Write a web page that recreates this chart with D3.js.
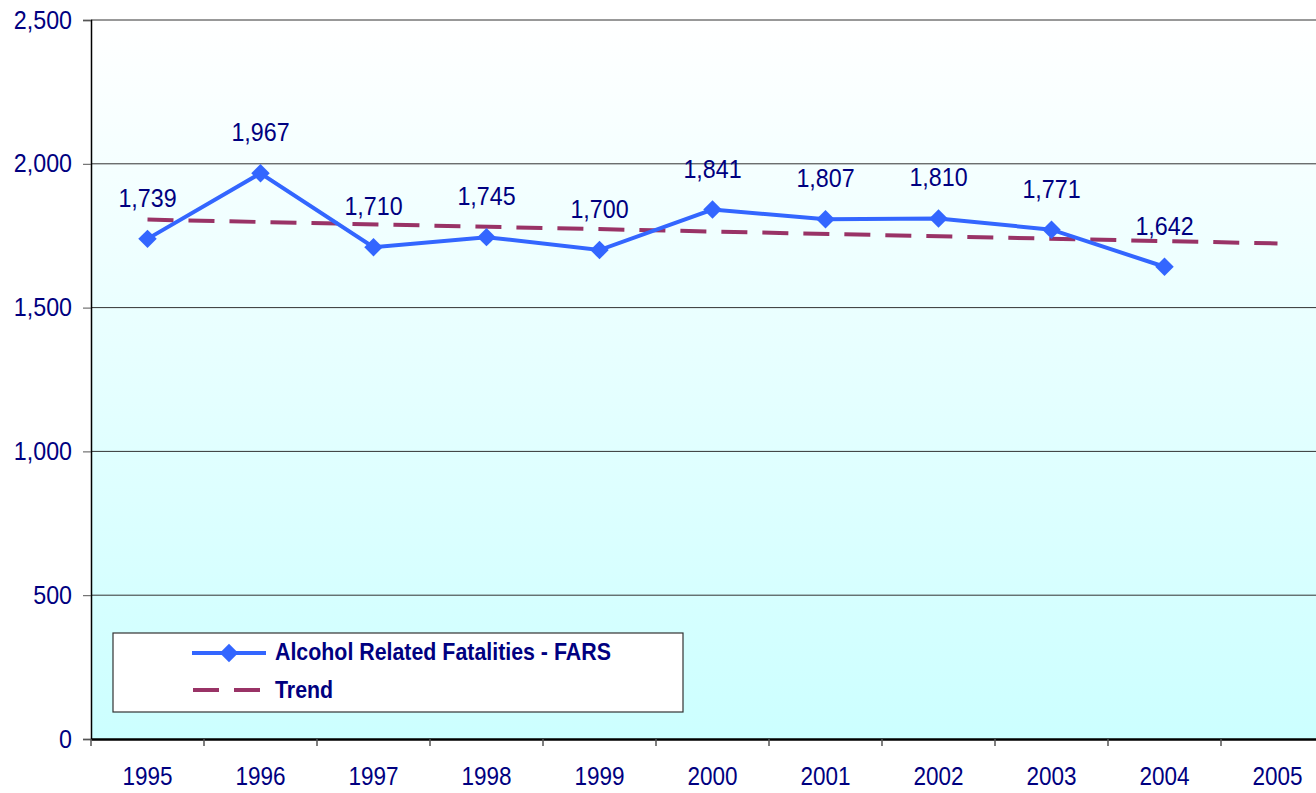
<!DOCTYPE html>
<html>
<head>
<meta charset="utf-8">
<script src="https://cdn.jsdelivr.net/npm/d3@7"></script>
<style>
  body { margin: 0; background: #fff; }
  svg { display: block; font-family: "Liberation Sans", Arial, sans-serif; }
</style>
</head>
<body>
<div id="chart"></div>
<script>
// data
var years = ["1995", "1996", "1997", "1998", "1999", "2000", "2001", "2002", "2003", "2004", "2005"];
var fatalities = [1739, 1967, 1710, 1745, 1700, 1841, 1807, 1810, 1771, 1642];
var trendYears = ["1995", "2005"];
var trendValues = [1806, 1723];
var yTicks = [0, 500, 1000, 1500, 2000, 2500];

var seriesName = "Alcohol Related Fatalities - FARS";
var trendName = "Trend";

var W = 1316, H = 793;
var margin = { top: 20, left: 91, bottom: 54 };
var plotW = 1243, plotH = H - margin.top - margin.bottom;

var navy = "#000080", blue = "#3366ff", maroon = "#993366";

// the original text is a bit narrower than Arial, squeeze it horizontally
function squeeze(sel, k) {
  sel.each(function() {
    var w = this.getComputedTextLength();
    d3.select(this)
      .attr("textLength", w * k)
      .attr("lengthAdjust", "spacingAndGlyphs");
  });
}

var svg = d3.select("#chart").append("svg")
  .attr("width", W)
  .attr("height", H);

var defs = svg.append("defs");
var grad = defs.append("linearGradient")
  .attr("id", "bg")
  .attr("x1", 0).attr("y1", 0).attr("x2", 0).attr("y2", 1);
grad.append("stop").attr("offset", "0%").attr("stop-color", "#ffffff");
grad.append("stop").attr("offset", "100%").attr("stop-color", "#ccffff");

var g = svg.append("g")
  .attr("transform", "translate(" + margin.left + "," + margin.top + ")");

var x = d3.scaleBand().domain(years).range([0, plotW]);
var y = d3.scaleLinear().domain([0, 2500]).range([plotH, 0]);
var cx = function(d) { return x(d) + x.bandwidth() / 2; };

// plot background
g.append("rect")
  .attr("width", plotW)
  .attr("height", plotH)
  .attr("fill", "url(#bg)");

// grid lines
g.selectAll(".grid")
  .data(yTicks.filter(function(d) { return d > 0; }))
  .enter().append("line")
  .attr("x1", 0).attr("x2", plotW)
  .attr("y1", function(d) { return y(d); })
  .attr("y2", function(d) { return y(d); })
  .attr("stroke", "#333")
  .attr("stroke-width", 1);

// y axis
var yAxis = g.append("g")
  .call(d3.axisLeft(y).tickValues(yTicks).tickSize(8).tickPadding(11).tickFormat(d3.format(",")));
yAxis.select(".domain").attr("stroke", "#000").attr("stroke-width", 1.5);
yAxis.selectAll(".tick line").attr("stroke", "#555");
yAxis.selectAll("text")
  .attr("fill", navy)
  .style("font-size", "25px")
  .style("font-family", "Liberation Sans, Arial, sans-serif")
  .call(squeeze, 0.93);

// x axis
var xAxis = g.append("g")
  .attr("transform", "translate(0," + plotH + ")")
  .call(d3.axisBottom(x).tickSize(0).tickPadding(28));
xAxis.select(".domain").attr("stroke", "#000").attr("stroke-width", 2.5);
xAxis.selectAll("text")
  .attr("fill", navy)
  .style("font-size", "25px")
  .style("font-family", "Liberation Sans, Arial, sans-serif")
  .call(squeeze, 0.9);
g.append("g")
  .selectAll("line")
  .data(years.concat(["end"]))
  .enter().append("line")
  .attr("x1", function(d, i) { return i * x.step(); })
  .attr("x2", function(d, i) { return i * x.step(); })
  .attr("y1", plotH)
  .attr("y2", plotH + 7)
  .attr("stroke", "#555")
  .attr("stroke-width", 1.5);

// trend line
var trendData = trendYears.map(function(d, i) { return { year: d, value: trendValues[i] }; });
g.append("path")
  .datum(trendData)
  .attr("d", d3.line()
    .x(function(d) { return cx(d.year); })
    .y(function(d) { return y(d.value); }))
  .attr("fill", "none")
  .attr("stroke", maroon)
  .attr("stroke-width", 4)
  .attr("stroke-dasharray", "26,15");

// main series
var data = fatalities.map(function(v, i) { return { year: years[i], value: v }; });
g.append("path")
  .datum(data)
  .attr("d", d3.line()
    .x(function(d) { return cx(d.year); })
    .y(function(d) { return y(d.value); }))
  .attr("fill", "none")
  .attr("stroke", blue)
  .attr("stroke-width", 4);

var diamond = d3.symbol().type(d3.symbolSquare).size(170);
g.selectAll(".pt")
  .data(data)
  .enter().append("path")
  .attr("d", diamond)
  .attr("transform", function(d) { return "translate(" + cx(d.year) + "," + y(d.value) + ") rotate(45)"; })
  .attr("fill", blue);

g.selectAll(".lbl")
  .data(data)
  .enter().append("text")
  .attr("x", function(d) { return cx(d.year); })
  .attr("y", function(d) { return y(d.value) - 32; })
  .attr("text-anchor", "middle")
  .attr("fill", navy)
  .style("font-size", "25px")
  .text(function(d) { return d3.format(",")(d.value); })
  .call(squeeze, 0.93);

// legend
var lg = svg.append("g").attr("transform", "translate(113,633)");
lg.append("rect")
  .attr("width", 570)
  .attr("height", 79)
  .attr("fill", "#fff")
  .attr("stroke", "#333")
  .attr("stroke-width", 1.2);
lg.append("line")
  .attr("x1", 79).attr("x2", 153).attr("y1", 20).attr("y2", 20)
  .attr("stroke", blue).attr("stroke-width", 4);
lg.append("path")
  .attr("d", diamond)
  .attr("transform", "translate(116,20) rotate(45)")
  .attr("fill", blue);
lg.append("text")
  .attr("x", 162).attr("y", 27)
  .attr("fill", navy)
  .style("font-size", "24px")
  .style("font-weight", "bold")
  .text(seriesName)
  .call(squeeze, 0.89);
lg.append("line")
  .attr("x1", 80).attr("x2", 148).attr("y1", 57).attr("y2", 57)
  .attr("stroke", maroon).attr("stroke-width", 4)
  .attr("stroke-dasharray", "26,15");
lg.append("text")
  .attr("x", 162).attr("y", 65)
  .attr("fill", navy)
  .style("font-size", "24px")
  .style("font-weight", "bold")
  .text(trendName)
  .call(squeeze, 0.89);
</script>
</body>
</html>
